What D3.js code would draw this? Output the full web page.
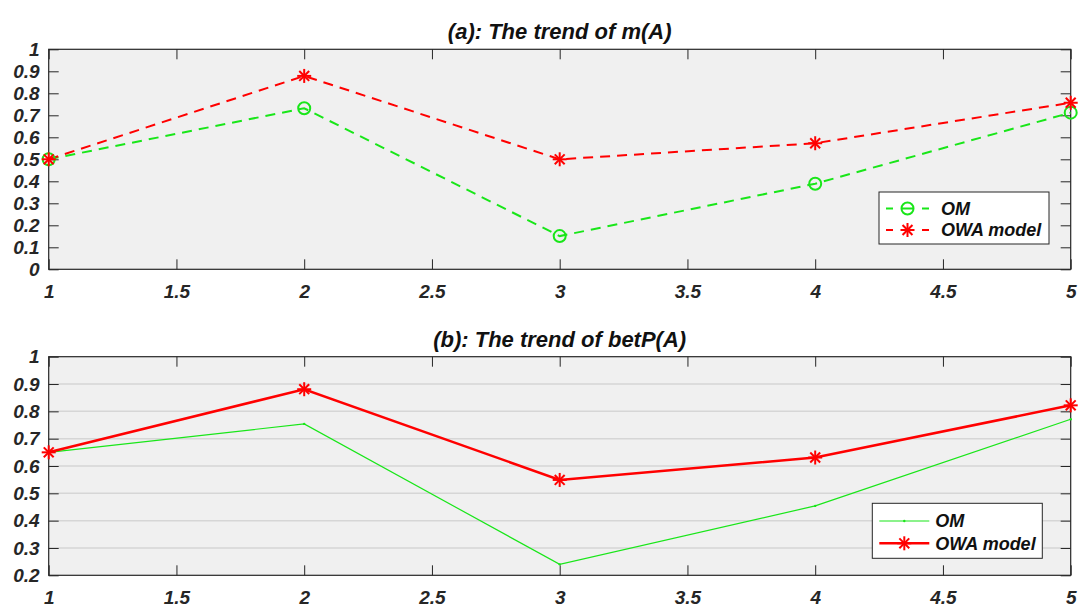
<!DOCTYPE html>
<html>
<head>
<meta charset="utf-8">
<script src="https://cdn.jsdelivr.net/npm/d3@7"></script>
<style>
  body { margin: 0; background: #fff; }
  text { font-family: "Liberation Sans", Arial, sans-serif; font-weight: bold; font-style: italic; fill: #262626; }
</style>
</head>
<body>
<div id="chart"></div>
<script>
// x positions shared by both panels
var steps = [1, 2, 3, 4, 5];
var xTicks = [1, 1.5, 2, 2.5, 3, 3.5, 4, 4.5, 5];

// (a) m(A)
var omMass = [0.50, 0.732, 0.151, 0.389, 0.712];
var owaMass = [0.50, 0.879, 0.500, 0.573, 0.757];
var yTicksA = [0, 0.1, 0.2, 0.3, 0.4, 0.5, 0.6, 0.7, 0.8, 0.9, 1];

// (b) betP(A)
var omBetP = [0.650, 0.754, 0.240, 0.454, 0.771];
var owaBetP = [0.650, 0.881, 0.549, 0.631, 0.822];
var yTicksB = [0.2, 0.3, 0.4, 0.5, 0.6, 0.7, 0.8, 0.9, 1];

var seriesNames = ["OM", "OWA model"];
var green = "#19e619", red = "#ff0000", axisColor = "#262626";

var W = 1079, H = 613;
var svg = d3.select("#chart").append("svg")
    .attr("width", W).attr("height", H);

var left = 48.7, right = 1070.7;
var xScale = d3.scaleLinear().domain([1, 5]).range([left, right]);

function asterisk(g, cx, cy, r, color, sw) {
    var a = g.append("g").attr("transform", "translate(" + cx + "," + cy + ")");
    [0, 45, 90, 135].forEach(function (ang) {
        var rad = ang * Math.PI / 180;
        a.append("line")
            .attr("x1", -r * Math.cos(rad)).attr("y1", -r * Math.sin(rad))
            .attr("x2", r * Math.cos(rad)).attr("y2", r * Math.sin(rad))
            .attr("stroke", color).attr("stroke-width", sw);
    });
}

function drawPanel(opt) {
    var yScale = d3.scaleLinear().domain(opt.yDomain).range([opt.bottom, opt.top]);
    var g = svg.append("g");

    // plot area
    g.append("rect")
        .attr("x", left).attr("y", opt.top)
        .attr("width", right - left).attr("height", opt.bottom - opt.top)
        .attr("fill", "#f0f0f0");

    // grid
    if (opt.grid) {
        g.selectAll(".grid").data(opt.yTicks.slice(1, -1)).enter().append("line")
            .attr("x1", left).attr("x2", right)
            .attr("y1", function (d) { return yScale(d); })
            .attr("y2", function (d) { return yScale(d); })
            .attr("stroke", "#d6d6d6").attr("stroke-width", 1.5);
    }

    // axes, MATLAB style ticks inside on all sides
    var xAxis = d3.axisBottom(xScale).tickValues(xTicks).tickSize(-10).tickPadding(21)
        .tickFormat(d3.format("~g"));
    var xAxisTop = d3.axisTop(xScale).tickValues(xTicks).tickSize(-10).tickFormat("");
    var yAxis = d3.axisLeft(yScale).tickValues(opt.yTicks).tickSize(-10).tickPadding(9)
        .tickFormat(d3.format("~g"));
    var yAxisRight = d3.axisRight(yScale).tickValues(opt.yTicks).tickSize(-10).tickFormat("");

    var gx = g.append("g").attr("transform", "translate(0," + opt.bottom + ")").call(xAxis);
    var gxt = g.append("g").attr("transform", "translate(0," + opt.top + ")").call(xAxisTop);
    var gy = g.append("g").attr("transform", "translate(" + left + ",0)").call(yAxis);
    var gyr = g.append("g").attr("transform", "translate(" + right + ",0)").call(yAxisRight);

    [gx, gxt, gy, gyr].forEach(function (ax) {
        ax.select(".domain").remove();
        ax.selectAll("line").attr("stroke", axisColor).attr("stroke-width", 1);
        ax.selectAll("text").attr("font-size", 19).style("fill", axisColor);
    });
    gx.selectAll("text").attr("dy", "0.4em");

    // box
    g.append("rect")
        .attr("x", left).attr("y", opt.top)
        .attr("width", right - left).attr("height", opt.bottom - opt.top)
        .attr("fill", "none").attr("stroke", axisColor).attr("stroke-width", 1.2);

    // title
    g.append("text")
        .attr("x", (left + right) / 2).attr("y", opt.top - 10)
        .attr("text-anchor", "middle").attr("font-size", 22)
        .style("fill", "#111")
        .text(opt.title);

    var line = d3.line()
        .x(function (d, i) { return xScale(steps[i]); })
        .y(function (d) { return yScale(d); });

    // OM
    g.append("path").datum(opt.om)
        .attr("d", line).attr("fill", "none")
        .attr("stroke", green).attr("stroke-width", opt.omWidth)
        .attr("stroke-dasharray", opt.dashed ? "10,7" : null);
    // OWA
    g.append("path").datum(opt.owa)
        .attr("d", line).attr("fill", "none")
        .attr("stroke", red).attr("stroke-width", opt.owaWidth)
        .attr("stroke-dasharray", opt.dashed ? "10,7" : null);

    // markers
    opt.om.forEach(function (d, i) {
        if (opt.omMarker === "o") {
            g.append("circle").attr("cx", xScale(steps[i])).attr("cy", yScale(d))
                .attr("r", 6).attr("fill", "none").attr("stroke", green).attr("stroke-width", 2);
        } else {
            g.append("circle").attr("cx", xScale(steps[i])).attr("cy", yScale(d))
                .attr("r", 1.2).attr("fill", green);
        }
    });
    opt.owa.forEach(function (d, i) {
        asterisk(g, xScale(steps[i]), yScale(d), 7, red, 2);
    });

    // legend
    var L = opt.legend;
    g.append("rect")
        .attr("x", L.x).attr("y", L.y).attr("width", L.w).attr("height", L.h)
        .attr("fill", "#fff").attr("stroke", axisColor).attr("stroke-width", 1);
    seriesNames.forEach(function (name, i) {
        var cy = L.y + L.rows[i];
        var color = i === 0 ? green : red;
        var sw = i === 0 ? opt.omWidth : opt.owaWidth;
        var mx = L.x + (L.lx1 + L.lx2) / 2;
        if (opt.dashed) {
            g.append("line").attr("x1", L.x + L.lx1).attr("x2", L.x + L.lx1 + 7)
                .attr("y1", cy).attr("y2", cy).attr("stroke", color).attr("stroke-width", sw);
            g.append("line").attr("x1", L.x + L.lx2 - 7).attr("x2", L.x + L.lx2)
                .attr("y1", cy).attr("y2", cy).attr("stroke", color).attr("stroke-width", sw);
        } else {
            g.append("line")
                .attr("x1", L.x + L.lx1).attr("x2", L.x + L.lx2)
                .attr("y1", cy).attr("y2", cy)
                .attr("stroke", color).attr("stroke-width", sw);
        }
        if (i === 0) {
            if (opt.omMarker === "o") {
                g.append("circle").attr("cx", mx).attr("cy", cy).attr("r", 6)
                    .attr("fill", "none").attr("stroke", green).attr("stroke-width", 2);
                g.append("line").attr("x1", mx - 6).attr("x2", mx + 6)
                    .attr("y1", cy).attr("y2", cy).attr("stroke", green).attr("stroke-width", 2);
            } else {
                g.append("circle").attr("cx", mx).attr("cy", cy).attr("r", 1.2).attr("fill", green);
            }
        } else {
            asterisk(g, mx, cy, 7, red, 2);
        }
        g.append("text")
            .attr("x", L.x + L.tx).attr("y", cy).attr("dy", "0.35em")
            .attr("font-size", 18).style("fill", "#111")
            .text(name);
    });
}

drawPanel({
    top: 49.3, bottom: 269.3, yDomain: [0, 1], yTicks: yTicksA,
    title: "(a): The trend of m(A)", grid: false, dashed: true,
    om: omMass, owa: owaMass, omWidth: 2, owaWidth: 2, omMarker: "o",
    legend: { x: 879, y: 192, w: 170, h: 52, rows: [16.5, 38], lx1: 7, lx2: 50, tx: 62 }
});

drawPanel({
    top: 356.7, bottom: 575.3, yDomain: [0.2, 1], yTicks: yTicksB,
    title: "(b): The trend of betP(A)", grid: true, dashed: false,
    om: omBetP, owa: owaBetP, omWidth: 1.2, owaWidth: 2.5, omMarker: ".",
    legend: { x: 872.3, y: 503.3, w: 170, h: 55, rows: [17.7, 40], lx1: 7, lx2: 57, tx: 63 }
});
</script>
</body>
</html>
